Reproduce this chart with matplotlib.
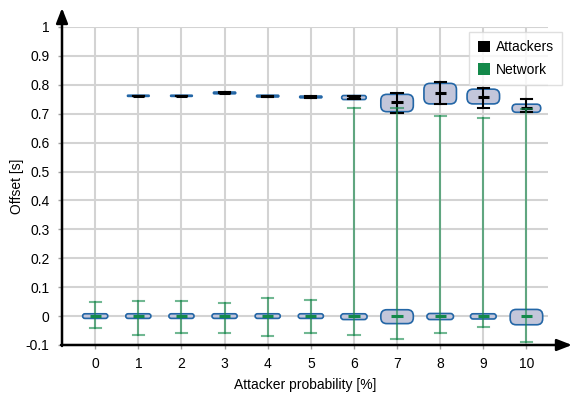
import numpy as np
from matplotlib import pyplot as plt
from matplotlib.patches import FancyBboxPatch, Patch

plt.rcParams['font.family'] = ['Liberation Sans', 'DejaVu Sans']

# Data #
probs = [0, 1, 2, 3, 4, 5, 6, 7, 8, 9, 10]

att_pos = [1, 2, 3, 4, 5, 6, 7, 8, 9, 10]
att_med = [0.762, 0.762, 0.772, 0.761, 0.758, 0.757, 0.741, 0.773, 0.759, 0.719]
att_q1 = [0.760, 0.760, 0.769, 0.758, 0.755, 0.749, 0.707, 0.734, 0.734, 0.705]
att_q3 = [0.764, 0.764, 0.775, 0.764, 0.761, 0.763, 0.767, 0.805, 0.785, 0.733]
att_low = [0.761, 0.761, 0.770, 0.759, 0.756, 0.751, 0.703, 0.733, 0.719, 0.707]
att_high = [0.763, 0.763, 0.774, 0.763, 0.760, 0.762, 0.773, 0.810, 0.788, 0.751]

net_pos = probs
net_med = [0.0, 0.0, 0.0, 0.0, 0.0, 0.0, 0.002, 0.002, 0.002, 0.002, 0.002]
net_q1 = [-0.008, -0.008, -0.008, -0.008, -0.008, -0.008, -0.012, -0.026, -0.012, -0.010, -0.030]
net_q3 = [0.008, 0.008, 0.008, 0.008, 0.008, 0.008, 0.008, 0.022, 0.009, 0.008, 0.023]
net_low = [-0.040, -0.066, -0.060, -0.060, -0.068, -0.057, -0.067, -0.080, -0.059, -0.038, -0.088]
net_high = [0.050, 0.053, 0.053, 0.047, 0.061, 0.055, 0.719, 0.721, 0.693, 0.684, 0.715]

yticks = [-0.1, 0, 0.1, 0.2, 0.3, 0.4, 0.5, 0.6, 0.7, 0.8, 0.9, 1]
ytick_labels = ['-0.1', '0', '0.1', '0.2', '0.3', '0.4', '0.5', '0.6', '0.7', '0.8', '0.9', '1']

# Styles
green = '#13894a'
box_face = '#c3c6da'
box_edge = '#2366a6'

fig = plt.figure(figsize=(5.73, 3.96), dpi=100)
ax = fig.add_axes([62 / 573, 51 / 396, 486 / 573, 318 / 396])
ax.set_xlim(-0.77, 10.5)
ax.set_ylim(-0.1, 1.0)

# pixel scale of data units
p0 = ax.transData.transform((0, 0))
p1 = ax.transData.transform((1, 1))
sx = p1[0] - p0[0]
sy = p1[1] - p0[1]


def draw_box(x, lo, hi, z):
    """Rounded box covering lo..hi at position x."""
    h_px = (hi - lo) * sy
    pad_px = min(h_px / 2, 6)
    w = 20.5 / sx
    inner_lo = lo + pad_px / sy
    inner_h = max(h_px - 2 * pad_px, 0) / sy
    patch = FancyBboxPatch((x - w / 2, inner_lo), w, inner_h,
                           boxstyle="round,pad=%f" % (pad_px / sx),
                           mutation_aspect=sx / sy,
                           facecolor=box_face, edgecolor=box_edge,
                           linewidth=1.2, zorder=z)
    ax.add_patch(patch)


def draw_whisker(x, lo, hi, color, alpha, z):
    cw = 0.13
    ax.plot([x, x], [lo, hi], color=color, alpha=alpha, lw=1.5, zorder=z)
    ax.plot([x - cw, x + cw], [lo, lo], color=color, alpha=alpha, lw=1.5, zorder=z)
    ax.plot([x - cw, x + cw], [hi, hi], color=color, alpha=alpha, lw=1.5, zorder=z)


# Attackers
for i, x in enumerate(att_pos):
    draw_box(x, att_q1[i], att_q3[i], 3)
    draw_whisker(x, att_low[i], att_high[i], 'black', 1.0, 4)
    ax.plot([x - 0.13, x + 0.13], [att_med[i]] * 2, color='black', lw=2.2, zorder=4,
            solid_capstyle='butt')

# Network
for i, x in enumerate(net_pos):
    draw_box(x, net_q1[i], net_q3[i], 5)
    draw_whisker(x, net_low[i], net_high[i], green, 0.6, 6)
    ax.plot([x - 0.13, x + 0.13], [net_med[i]] * 2, color=green, lw=2.2, zorder=6,
            solid_capstyle='butt')

# Axes and grid
ax.set_xticks(probs)
ax.set_yticks(yticks)
ax.set_yticklabels(ytick_labels)
ax.grid(True, color='#d3d3d3', lw=1.5)
ax.set_axisbelow(True)
ax.tick_params(axis='both', length=3, width=1, color='#a0a0a0', labelsize=10, pad=6)
for s in ax.spines.values():
    s.set_visible(False)

ax.set_xlabel('Attacker probability [%]', fontsize=10, labelpad=5)
ax.set_ylabel('Offset [s]', fontsize=10, labelpad=1)

# Arrow axes
ax.annotate('', xy=(572 / 573, 51 / 396), xytext=(61 / 573, 51 / 396),
            xycoords='figure fraction', textcoords='figure fraction',
            arrowprops=dict(arrowstyle='-|>,head_length=0.9,head_width=0.35',
                            color='black', lw=1.8, shrinkA=0, shrinkB=0))
ax.annotate('', xy=(62 / 573, 388 / 396), xytext=(62 / 573, 50 / 396),
            xycoords='figure fraction', textcoords='figure fraction',
            arrowprops=dict(arrowstyle='-|>,head_length=0.9,head_width=0.35',
                            color='black', lw=1.8, shrinkA=0, shrinkB=0))

# Legend
handles = [Patch(facecolor='black', edgecolor='none'),
           Patch(facecolor=green, edgecolor='none')]
leg = fig.legend(handles, ['Attackers', 'Network'], loc='upper right',
                 bbox_to_anchor=(569 / 573, 371 / 396), fontsize=10,
                 handlelength=0.9, handleheight=0.9, handletextpad=0.4,
                 borderpad=0.6, labelspacing=0.6, fancybox=False,
                 framealpha=0.8, edgecolor='#d8d8d8')
leg.get_frame().set_linewidth(1.0)

fig.savefig('out.png', dpi=100)
